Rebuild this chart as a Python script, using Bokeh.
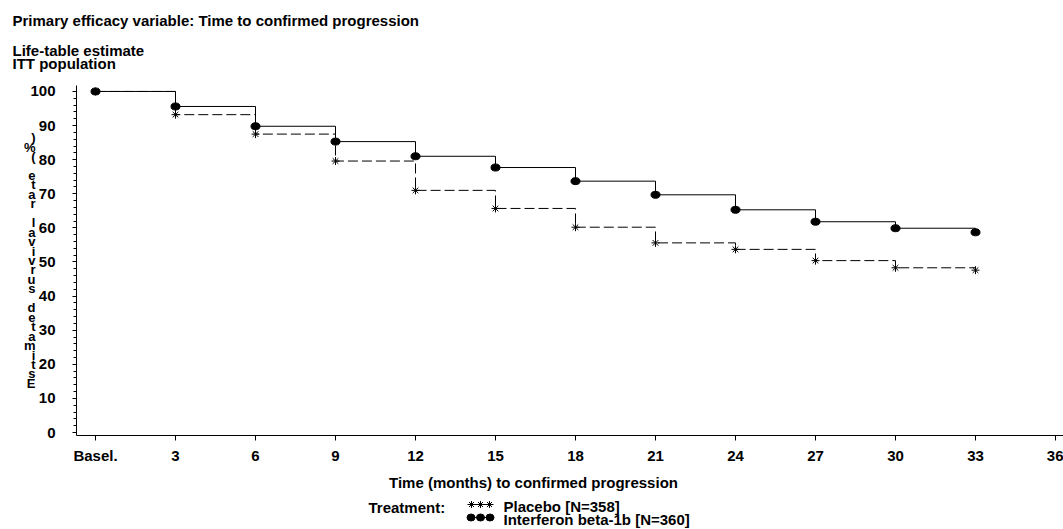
from bokeh.plotting import figure
from bokeh.models import Range1d, FixedTicker, LinearAxis
from bokeh.layouts import column
from bokeh.embed import file_html
from bokeh.resources import INLINE
from bokeh.core.properties import value

# ---------------- data ----------------
months = [0, 3, 6, 9, 12, 15, 18, 21, 24, 27, 30, 33]
interferon = [100, 95.6, 89.8, 85.3, 81.0, 77.7, 73.7, 69.7, 65.3, 61.8, 59.9, 58.7]
placebo = [100, 93.2, 87.5, 79.6, 71.0, 65.7, 60.2, 55.6, 53.7, 50.4, 48.3, 47.6]
x_ticks = [0, 3, 6, 9, 12, 15, 18, 21, 24, 27, 30, 33, 36]
x_tick_labels = {0: "Basel."}
y_ticks = [0, 10, 20, 30, 40, 50, 60, 70, 80, 90, 100]
y_minor = list(range(0, 101, 2))
title_lines = ["Primary efficacy variable: Time to confirmed progression",
               "Life-table estimate", "ITT population"]
x_title = "Time (months) to confirmed progression"
y_title = "Estimated survival rate (%)"
legend_title = "Treatment:"
series_names = ["Placebo [N=358]", "Interferon beta-1b [N=360]"]

FONT = "Liberation Sans"
FS = "15px"
W = 1063


def text_panel(height, top):
    """A figure whose frame is the full canvas; data coords == page pixels."""
    f = figure(width=W, height=height, output_backend="svg", toolbar_location=None,
               x_range=Range1d(0, W), y_range=Range1d(top + height, top),
               min_border=0, x_axis_type=None, y_axis_type=None,
               frame_align=False)
    f.outline_line_color = None
    f.xgrid.visible = False
    f.ygrid.visible = False
    return f


def txt(f, xs, ys, texts, align="left"):
    f.text(x=xs, y=ys, text=texts, text_font=value(FONT), text_font_style="bold",
           text_font_size=FS, text_baseline="middle", text_align=align,
           text_color="black")


# ---------------- titles ----------------
TOP_H = 75
t = text_panel(TOP_H, 0)
txt(t, [12, 12, 12], [20, 50, 63], title_lines)

# ---------------- main plot ----------------
MAIN_TOP = TOP_H
MAIN_H = 466 - MAIN_TOP
p = figure(width=W, height=MAIN_H, output_backend="svg", toolbar_location=None,
           x_range=Range1d(-0.7125, 36.3), y_range=Range1d(-0.877, 101.75),
           min_border_left=76, min_border_right=0, min_border_top=85 - MAIN_TOP,
           min_border_bottom=MAIN_TOP + MAIN_H - 436,
           x_axis_type=None, y_axis_type=None, frame_align=False)
p.outline_line_color = None
p.xgrid.visible = False
p.ygrid.visible = False

xa = LinearAxis(ticker=FixedTicker(ticks=x_ticks))
xa.major_label_overrides = x_tick_labels
xa.major_tick_out = 5
xa.major_tick_in = 0
xa.minor_tick_out = 0
xa.minor_tick_in = 0
xa.major_label_standoff = 6
p.add_layout(xa, "below")

ya = LinearAxis(ticker=FixedTicker(ticks=y_ticks, minor_ticks=y_minor))
ya.major_tick_out = 4
ya.major_tick_in = 0
ya.minor_tick_out = 3
ya.minor_tick_in = 0
ya.major_label_standoff = 17
# reversed, stacked characters, as in the reference
ya.axis_label = "\n".join(list(y_title[::-1]))
ya.axis_label_orientation = "horizontal"
ya.axis_label_text_font = FONT
ya.axis_label_text_font_style = "bold"
ya.axis_label_text_font_size = "13px"
ya.axis_label_text_line_height = 0.63
ya.axis_label_text_align = "center"
ya.axis_label_text_color = "black"
ya.axis_label_standoff = -8
p.add_layout(ya, "left")

for ax in (xa, ya):
    ax.axis_line_color = "black"
    ax.axis_line_width = 1
    ax.major_tick_line_color = "black"
    ax.minor_tick_line_color = "black"
    ax.major_label_text_font = FONT
    ax.major_label_text_font_style = "bold"
    ax.major_label_text_font_size = FS
    ax.major_label_text_color = "black"

p.step(months, placebo, mode="after", line_color="black", line_width=1,
       line_dash="10 4")
p.step(months, interferon, mode="after", line_color="black", line_width=1)
p.scatter(months, placebo, marker="asterisk", size=8, line_color="black",
          line_width=1)
p.ellipse(x=months, y=interferon, width=9, height=7, width_units="screen",
          height_units="screen", fill_color="black", line_color="black")

# ---------------- axis title + legend ----------------
BOT_TOP = 466
q = text_panel(529 - BOT_TOP, BOT_TOP)
txt(q, [533], [482], [x_title], align="center")
txt(q, [368], [507], [legend_title])
txt(q, [503, 503], [506, 519], series_names)
q.line([467, 493], [504, 504], line_color="black", line_width=1)
q.scatter([471, 480, 489], [504, 504, 504], marker="asterisk", size=7,
          line_color="black", line_width=1)
q.line([467, 493], [517, 517], line_color="black", line_width=1)
q.ellipse(x=[470.5, 480, 489.5], y=[517, 517, 517], width=8, height=7,
          width_units="screen", height_units="screen", fill_color="black",
          line_color="black")

layout = column(t, p, q, spacing=0)
open("out.html", "w").write(file_html(layout, INLINE))
